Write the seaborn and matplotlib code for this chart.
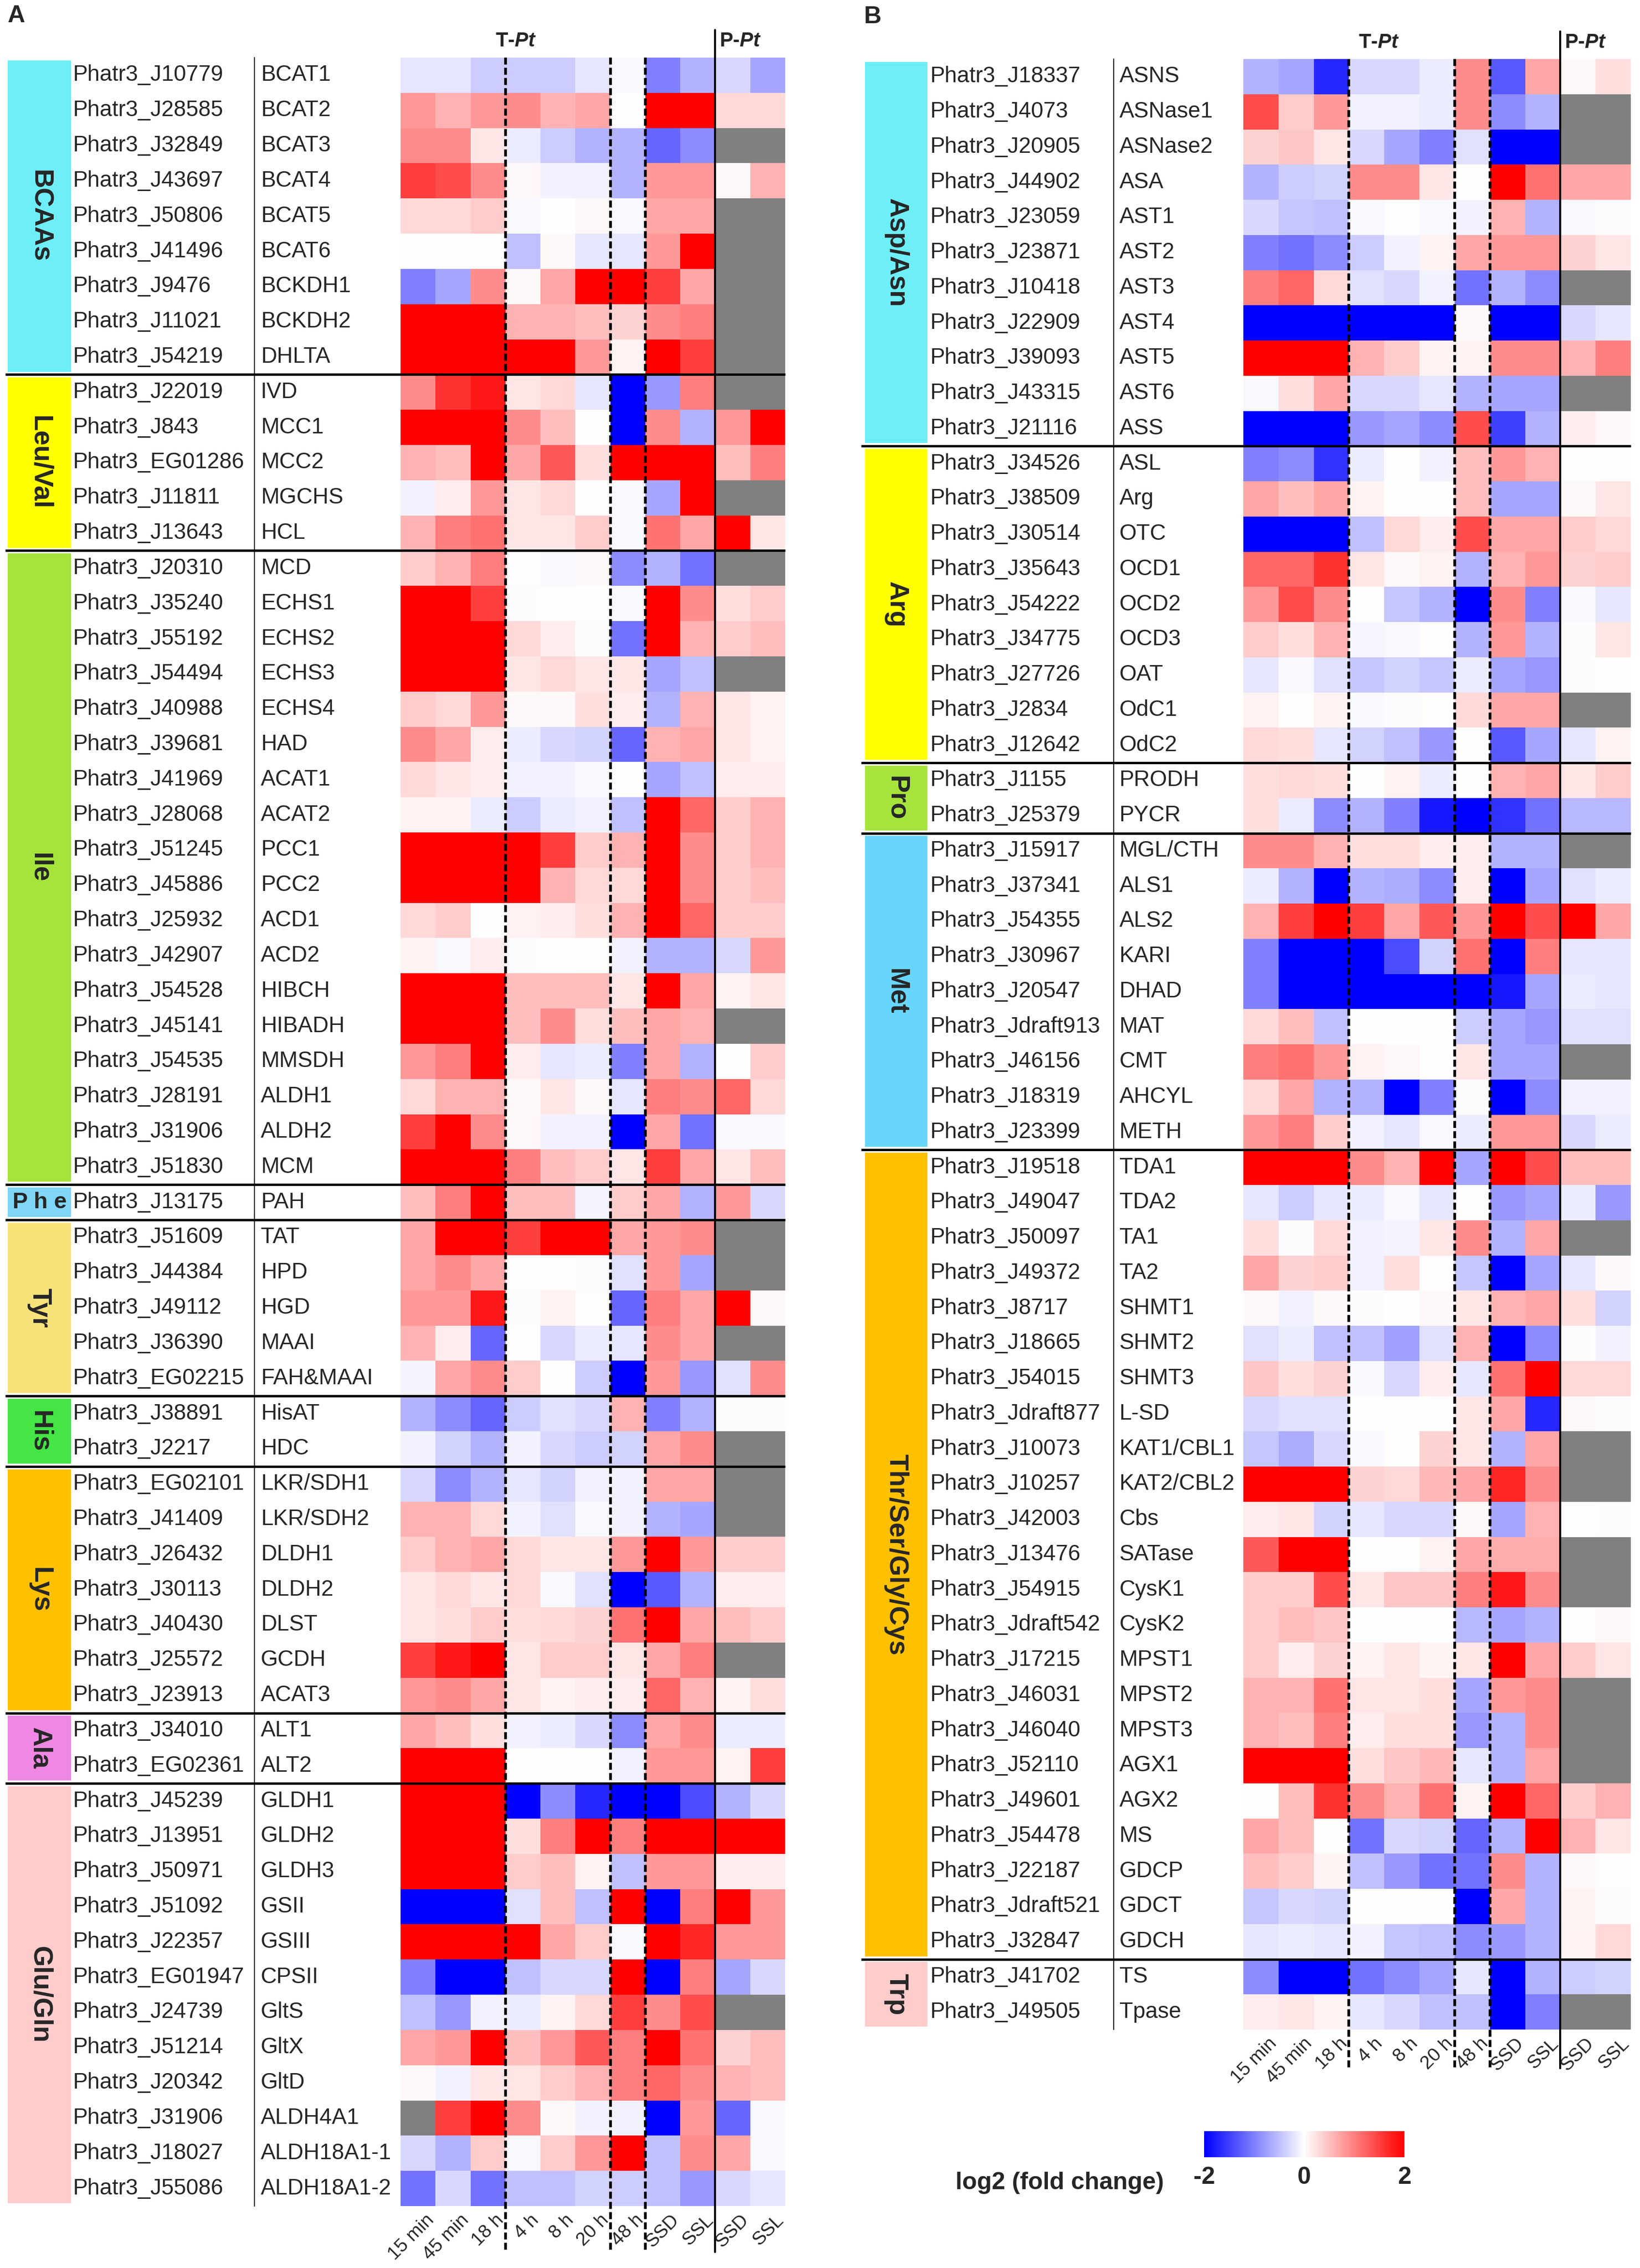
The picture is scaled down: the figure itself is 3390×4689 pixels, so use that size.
"""
Heatmaps of log2 fold change for amino acid metabolism genes (panels A and B).
"""

import numpy as np
import pandas as pd
import seaborn as sns
import matplotlib.pyplot as plt
from matplotlib.patches import Rectangle

nan = np.nan

col_labels = ["15 min", "45 min", "18 h", "4 h", "8 h", "20 h", "48 h",
              "SSD", "SSL", "SSD", "SSL"]

# ---------------- panel A ----------------
bcaa_ids = ["Phatr3_J10779", "Phatr3_J28585", "Phatr3_J32849", "Phatr3_J43697",
            "Phatr3_J50806", "Phatr3_J41496", "Phatr3_J9476", "Phatr3_J11021",
            "Phatr3_J54219"]
bcaa_names = ["BCAT1", "BCAT2", "BCAT3", "BCAT4", "BCAT5", "BCAT6", "BCKDH1",
              "BCKDH2", "DHLTA"]
bcaa_vals = [
    [-0.2, -0.2, -0.4, -0.4, -0.4, -0.2, -0.05, -1.0, -0.6, -0.3, -0.7],
    [0.8, 0.6, 0.8, 0.9, 0.6, 0.7, 0.0, 2, 2, 0.3, 0.3],
    [0.9, 0.9, 0.2, -0.15, -0.4, -0.6, -0.6, -1.2, -0.9, nan, nan],
    [1.5, 1.4, 0.9, 0.05, -0.1, -0.1, -0.6, 0.8, 0.8, 0.05, 0.6],
    [0.3, 0.3, 0.4, -0.05, 0.0, 0.05, -0.05, 0.7, 0.7, nan, nan],
    [0.0, 0.0, 0.0, -0.5, 0.05, -0.2, -0.2, 0.8, 2, nan, nan],
    [-1.0, -0.7, 0.9, 0.05, 0.7, 2, 2, 1.5, 0.7, nan, nan],
    [2, 2, 2, 0.6, 0.6, 0.5, 0.35, 0.9, 1.0, nan, nan],
    [2, 2, 2, 2, 2, 0.8, 0.1, 2, 1.5, nan, nan],
]

leuval_ids = ["Phatr3_J22019", "Phatr3_J843", "Phatr3_EG01286", "Phatr3_J11811",
              "Phatr3_J13643"]
leuval_names = ["IVD", "MCC1", "MCC2", "MGCHS", "HCL"]
leuval_vals = [
    [0.9, 1.6, 1.8, 0.2, 0.3, -0.2, -2, -0.8, 1.0, nan, nan],
    [2, 2, 2, 0.9, 0.5, 0.0, -2, 0.9, -0.6, 0.8, 2],
    [0.6, 0.5, 2, 0.7, 1.3, 0.25, 2, 2, 2, 0.5, 1.0],
    [-0.1, 0.15, 0.8, 0.2, 0.3, 0.0, -0.05, -0.7, 2, nan, nan],
    [0.6, 1.0, 1.1, 0.2, 0.2, 0.4, -0.05, 1.1, 0.7, 2, 0.2],
]

ile_ids = ["Phatr3_J20310", "Phatr3_J35240", "Phatr3_J55192", "Phatr3_J54494",
           "Phatr3_J40988", "Phatr3_J39681", "Phatr3_J41969", "Phatr3_J28068",
           "Phatr3_J51245", "Phatr3_J45886", "Phatr3_J25932", "Phatr3_J42907",
           "Phatr3_J54528", "Phatr3_J45141", "Phatr3_J54535", "Phatr3_J28191",
           "Phatr3_J31906", "Phatr3_J51830"]
ile_names = ["MCD", "ECHS1", "ECHS2", "ECHS3", "ECHS4", "HAD", "ACAT1", "ACAT2",
             "PCC1", "PCC2", "ACD1", "ACD2", "HIBCH", "HIBADH", "MMSDH", "ALDH1",
             "ALDH2", "MCM"]
ile_vals = [
    [0.4, 0.6, 1.0, 0.0, -0.05, 0.05, -0.9, -0.6, -1.1, nan, nan],
    [2, 2, 1.5, -0.02, 0.02, 0.0, -0.05, 2, 0.9, 0.25, 0.4],
    [2, 2, 2, 0.3, 0.15, -0.02, -1.1, 2, 0.6, 0.4, 0.5],
    [2, 2, 2, 0.2, 0.3, 0.2, 0.2, -0.7, -0.5, nan, nan],
    [0.4, 0.3, 0.8, 0.05, 0.05, 0.25, 0.15, -0.6, 0.6, 0.2, 0.1],
    [0.9, 0.7, 0.15, -0.15, -0.3, -0.35, -1.2, 0.6, 0.7, 0.2, 0.1],
    [0.3, 0.2, 0.15, -0.1, -0.1, -0.05, 0.0, -0.7, -0.5, 0.15, 0.15],
    [0.1, 0.1, -0.15, -0.4, -0.15, -0.1, -0.5, 2, 1.2, 0.4, 0.6],
    [2, 2, 2, 2, 1.5, 0.4, 0.6, 2, 0.9, 0.4, 0.6],
    [2, 2, 2, 2, 0.6, 0.3, 0.3, 2, 0.9, 0.4, 0.5],
    [0.3, 0.4, 0.0, 0.1, 0.15, 0.25, 0.6, 2, 1.2, 0.4, 0.4],
    [0.1, -0.05, 0.15, -0.02, 0.0, 0.02, -0.1, -0.6, -0.6, -0.3, 0.8],
    [2, 2, 2, 0.5, 0.5, 0.5, 0.2, 2, 0.7, 0.1, 0.2],
    [2, 2, 2, 0.5, 0.9, 0.25, 0.5, 0.7, 0.6, nan, nan],
    [0.8, 1.0, 2, 0.15, -0.2, -0.15, -1.0, 0.7, -0.6, 0.0, 0.4],
    [0.3, 0.6, 0.6, 0.05, 0.2, 0.05, -0.2, 1.0, 0.9, 1.2, 0.3],
    [1.5, 2, 0.9, 0.05, -0.1, -0.1, -2, 0.7, -1.1, -0.05, -0.05],
    [2, 2, 2, 1.0, 0.5, 0.4, 0.2, 1.5, 0.7, 0.2, 0.5],
]

phe_ids = ["Phatr3_J13175"]
phe_names = ["PAH"]
phe_vals = [[0.5, 1.0, 2, 0.5, 0.5, -0.08, 0.4, 0.7, -0.6, 0.8, -0.3]]

tyr_ids = ["Phatr3_J51609", "Phatr3_J44384", "Phatr3_J49112", "Phatr3_J36390",
           "Phatr3_EG02215"]
tyr_names = ["TAT", "HPD", "HGD", "MAAI", "FAH&MAAI"]
tyr_vals = [
    [0.7, 2, 2, 1.5, 2, 2, 0.7, 0.8, 0.9, nan, nan],
    [0.7, 0.9, 0.7, 0.0, 0.02, -0.02, -0.25, 0.8, -0.7, nan, nan],
    [0.8, 0.8, 1.8, -0.03, 0.1, 0.03, -1.2, 1.0, 0.7, 2, 0.05],
    [0.6, 0.15, -1.2, 0.0, -0.3, -0.15, -0.2, 0.9, 0.7, nan, nan],
    [-0.08, 0.7, 0.9, 0.4, 0.0, -0.4, -2, 0.8, -0.8, -0.25, 0.9],
]

his_ids = ["Phatr3_J38891", "Phatr3_J2217"]
his_names = ["HisAT", "HDC"]
his_vals = [
    [-0.6, -0.9, -1.2, -0.4, -0.25, -0.3, 0.6, -1.0, -0.6, -0.02, -0.02],
    [-0.1, -0.35, -0.6, -0.1, -0.3, -0.4, -0.35, 0.7, 0.9, nan, nan],
]

lys_ids = ["Phatr3_EG02101", "Phatr3_J41409", "Phatr3_J26432", "Phatr3_J30113",
           "Phatr3_J40430", "Phatr3_J25572", "Phatr3_J23913"]
lys_names = ["LKR/SDH1", "LKR/SDH2", "DLDH1", "DLDH2", "DLST", "GCDH", "ACAT3"]
lys_vals = [
    [-0.3, -0.9, -0.6, -0.2, -0.35, -0.1, -0.1, 0.7, 0.7, nan, nan],
    [0.6, 0.6, 0.3, -0.1, -0.25, -0.05, -0.1, -0.6, -0.7, nan, nan],
    [0.4, 0.6, 0.7, 0.3, 0.2, 0.2, 0.8, 2, 0.8, 0.4, 0.4],
    [0.2, 0.3, 0.2, 0.3, -0.05, -0.25, -2, -1.3, -0.6, 0.15, 0.15],
    [0.2, 0.25, 0.4, 0.25, 0.3, 0.35, 1.1, 2, 0.7, 0.5, 0.4],
    [1.5, 1.8, 2, 0.2, 0.4, 0.4, 0.2, 0.7, 1.0, nan, nan],
    [0.8, 0.9, 0.7, 0.2, 0.1, 0.15, 0.15, 1.2, 0.6, 0.1, 0.25],
]

ala_ids = ["Phatr3_J34010", "Phatr3_EG02361"]
ala_names = ["ALT1", "ALT2"]
ala_vals = [
    [0.7, 0.5, 0.25, -0.1, -0.15, -0.3, -0.9, 0.7, 0.9, -0.15, -0.15],
    [2, 2, 2, 0.0, 0.0, 0.0, -0.1, 0.8, 0.8, 0.1, 1.5],
]

glu_ids = ["Phatr3_J45239", "Phatr3_J13951", "Phatr3_J50971", "Phatr3_J51092",
           "Phatr3_J22357", "Phatr3_EG01947", "Phatr3_J24739", "Phatr3_J51214",
           "Phatr3_J20342", "Phatr3_J31906", "Phatr3_J18027", "Phatr3_J55086"]
glu_names = ["GLDH1", "GLDH2", "GLDH3", "GSII", "GSIII", "CPSII", "GltS", "GltX",
             "GltD", "ALDH4A1", "ALDH18A1-1", "ALDH18A1-2"]
glu_vals = [
    [2, 2, 2, -2, -0.9, -1.7, -2, -2, -1.4, -0.6, -0.3],
    [2, 2, 2, 0.25, 1.0, 2, 1.0, 2, 2, 2, 2],
    [2, 2, 2, 0.4, 0.5, 0.1, -0.5, 0.8, 0.8, 0.15, 0.15],
    [-2, -2, -2, -0.25, 0.5, -0.5, 2, -2, 1.0, 2, 0.8],
    [2, 2, 2, 2, 0.7, 0.4, -0.05, 2, 1.7, 0.8, 0.8],
    [-1.0, -2, -2, -0.5, -0.3, -0.3, 2, -2, 1.0, -0.7, -0.3],
    [-0.5, -0.8, -0.1, -0.15, 0.1, 0.3, 1.5, 0.9, 1.4, nan, nan],
    [0.7, 0.8, 2, 0.5, 0.8, 1.3, 1.0, 2, 1.1, 0.35, 0.5],
    [0.05, -0.1, 0.2, 0.2, 0.4, 0.6, 1.0, 1.2, 0.9, 0.6, 0.5],
    [nan, 1.5, 2, 0.9, 0.05, -0.1, -0.1, -2, 0.8, -1.2, -0.05],
    [-0.3, -0.6, 0.4, -0.05, 0.4, 0.8, 2, -0.5, 0.9, 0.7, -0.05],
    [-1.1, -0.3, -1.1, -0.5, -0.5, -0.35, -0.4, -0.5, -0.8, -0.3, -0.2],
]

# ---------------- panel B ----------------
asp_ids = ["Phatr3_J18337", "Phatr3_J4073", "Phatr3_J20905", "Phatr3_J44902",
           "Phatr3_J23059", "Phatr3_J23871", "Phatr3_J10418", "Phatr3_J22909",
           "Phatr3_J39093", "Phatr3_J43315", "Phatr3_J21116"]
asp_names = ["ASNS", "ASNase1", "ASNase2", "ASA", "AST1", "AST2", "AST3", "AST4",
             "AST5", "AST6", "ASS"]
asp_vals = [
    [-0.6, -0.7, -1.7, -0.3, -0.3, -0.15, 0.9, -1.3, 0.7, 0.05, 0.25],
    [1.4, 0.4, 0.8, -0.1, -0.1, -0.15, 0.9, -0.9, -0.6, nan, nan],
    [0.35, 0.45, 0.2, -0.3, -0.7, -1.0, -0.25, -2, -2, nan, nan],
    [-0.6, -0.4, -0.35, 0.9, 0.9, 0.2, 0.0, 2, 1.1, 0.7, 0.7],
    [-0.3, -0.45, -0.5, -0.05, 0.0, -0.05, -0.1, 0.6, -0.6, -0.05, -0.02],
    [-1.0, -1.1, -0.9, -0.4, -0.1, 0.1, 0.7, 0.8, 0.8, 0.35, 0.2],
    [1.0, 1.2, 0.3, -0.25, -0.3, -0.1, -1.1, -0.6, -0.9, nan, nan],
    [-2, -2, -2, -2, -2, -2, 0.05, -2, -2, -0.3, -0.2],
    [2, 2, 2, 0.6, 0.4, 0.1, 0.1, 0.9, 0.9, 0.6, 1.0],
    [-0.05, 0.25, 0.7, -0.3, -0.3, -0.2, -0.6, -0.7, -0.7, nan, nan],
    [-2, -2, -2, -0.8, -0.7, -0.9, 1.4, -1.5, -0.6, 0.15, 0.05],
]

arg_ids = ["Phatr3_J34526", "Phatr3_J38509", "Phatr3_J30514", "Phatr3_J35643",
           "Phatr3_J54222", "Phatr3_J34775", "Phatr3_J27726", "Phatr3_J2834",
           "Phatr3_J12642"]
arg_names = ["ASL", "Arg", "OTC", "OCD1", "OCD2", "OCD3", "OAT", "OdC1", "OdC2"]
arg_vals = [
    [-1.0, -0.9, -1.6, -0.15, 0.0, -0.1, 0.5, 0.8, 0.6, 0.0, 0.0],
    [0.7, 0.5, 0.7, 0.1, 0.0, 0.0, 0.5, -0.7, -0.7, 0.05, 0.2],
    [-2, -2, -2, -0.5, 0.3, 0.15, 1.4, 0.7, 0.7, 0.4, 0.3],
    [1.2, 1.2, 1.6, 0.2, 0.05, 0.1, -0.6, 0.6, 0.8, 0.35, 0.4],
    [0.8, 1.4, 0.9, 0.0, -0.45, -0.6, -2, 0.9, -1.0, -0.05, -0.2],
    [0.4, 0.25, 0.6, -0.07, -0.05, 0.03, -0.6, 0.8, -0.6, -0.03, 0.2],
    [-0.2, -0.05, -0.25, -0.45, -0.35, -0.45, -0.15, -0.7, -0.8, -0.03, 0.0],
    [0.1, 0.0, 0.1, -0.05, -0.02, 0.02, 0.3, 0.7, 0.7, nan, nan],
    [0.3, 0.25, -0.2, -0.35, -0.5, -0.8, 0.03, -1.3, -0.7, -0.2, 0.1],
]

pro_ids = ["Phatr3_J1155", "Phatr3_J25379"]
pro_names = ["PRODH", "PYCR"]
pro_vals = [
    [0.25, 0.3, 0.25, 0.0, 0.1, -0.15, 0.0, 0.6, 0.7, 0.2, 0.4],
    [0.25, -0.15, -0.9, -0.6, -1.0, -1.8, -2, -1.6, -1.1, -0.55, -0.55],
]

met_ids = ["Phatr3_J15917", "Phatr3_J37341", "Phatr3_J54355", "Phatr3_J30967",
           "Phatr3_J20547", "Phatr3_Jdraft913", "Phatr3_J46156", "Phatr3_J18319",
           "Phatr3_J23399"]
met_names = ["MGL/CTH", "ALS1", "ALS2", "KARI", "DHAD", "MAT", "CMT", "AHCYL", "METH"]
met_vals = [
    [0.9, 0.9, 0.6, 0.25, 0.25, 0.15, 0.15, -0.6, -0.6, nan, nan],
    [-0.15, -0.6, -2, -0.6, -0.65, -0.9, 0.15, -2, -0.7, -0.25, -0.15],
    [0.6, 1.5, 2, 1.5, 0.7, 1.3, 0.8, 2, 1.4, 2, 0.7],
    [-1.0, -2, -2, -2, -1.4, -0.35, 1.1, -2, 1.0, -0.2, -0.2],
    [-1.0, -2, -2, -2, -2, -2, -2, -1.8, -0.7, -0.15, -0.2],
    [0.3, 0.5, -0.5, 0.0, 0.0, 0.0, -0.4, -0.7, -0.8, -0.25, -0.25],
    [1.0, 1.1, 0.8, 0.1, 0.05, 0.0, 0.2, -0.7, -0.7, nan, nan],
    [0.3, 0.7, -0.6, -0.6, -2, -1.0, -0.02, -2, -0.9, -0.12, -0.12],
    [0.8, 1.0, 0.4, -0.1, -0.2, -0.05, -0.15, 0.8, 0.8, -0.3, -0.15],
]

thr_ids = ["Phatr3_J19518", "Phatr3_J49047", "Phatr3_J50097", "Phatr3_J49372",
           "Phatr3_J8717", "Phatr3_J18665", "Phatr3_J54015", "Phatr3_Jdraft877",
           "Phatr3_J10073", "Phatr3_J10257", "Phatr3_J42003", "Phatr3_J13476",
           "Phatr3_J54915", "Phatr3_Jdraft542", "Phatr3_J17215", "Phatr3_J46031",
           "Phatr3_J46040", "Phatr3_J52110", "Phatr3_J49601", "Phatr3_J54478",
           "Phatr3_J22187", "Phatr3_Jdraft521", "Phatr3_J32847"]
thr_names = ["TDA1", "TDA2", "TA1", "TA2", "SHMT1", "SHMT2", "SHMT3", "L-SD",
             "KAT1/CBL1", "KAT2/CBL2", "Cbs", "SATase", "CysK1", "CysK2", "MPST1",
             "MPST2", "MPST3", "AGX1", "AGX2", "MS", "GDCP", "GDCT", "GDCH"]
thr_vals = [
    [2, 2, 2, 0.9, 0.6, 2, -0.7, 2, 1.4, 0.5, 0.5],
    [-0.2, -0.4, -0.2, -0.15, -0.05, -0.2, 0.03, -0.8, -0.7, -0.15, -0.8],
    [0.25, -0.02, 0.3, -0.1, -0.08, 0.2, 0.9, -0.6, 0.7, nan, nan],
    [0.7, 0.35, 0.4, -0.1, 0.25, 0.02, -0.45, -2, -0.7, -0.2, 0.05],
    [0.05, -0.1, 0.05, -0.02, 0.0, 0.05, 0.2, 0.6, 0.7, 0.25, -0.35],
    [-0.25, -0.15, -0.5, -0.5, -0.75, -0.25, 0.6, -2, -0.9, -0.02, -0.1],
    [0.45, 0.25, 0.35, -0.05, -0.3, 0.15, -0.2, 1.1, 2, 0.3, 0.3],
    [-0.3, -0.25, -0.25, 0.0, 0.0, 0.0, 0.2, 0.7, -1.7, 0.05, -0.03],
    [-0.45, -0.65, -0.3, -0.05, 0.02, 0.35, 0.2, -0.6, 0.7, nan, nan],
    [2, 2, 2, 0.35, 0.3, 0.55, 0.7, 1.7, 0.9, nan, nan],
    [0.15, 0.2, -0.35, -0.2, -0.3, -0.3, 0.05, -0.7, 0.6, 0.03, -0.03],
    [1.3, 2, 2, 0.0, 0.0, 0.1, 0.7, 0.65, 0.65, nan, nan],
    [0.4, 0.4, 1.4, 0.2, 0.45, 0.45, 1.0, 1.8, 0.9, nan, nan],
    [0.4, 0.5, 0.45, 0.0, 0.0, 0.0, -0.55, -0.7, -0.6, 0.0, 0.05],
    [0.4, 0.15, 0.35, 0.1, 0.2, 0.08, 0.2, 2, 0.7, 0.4, 0.2],
    [0.6, 0.6, 1.1, 0.2, 0.2, 0.25, -0.7, 0.8, 0.9, nan, nan],
    [0.6, 0.5, 1.0, 0.15, 0.25, 0.25, -0.8, -0.6, 0.9, nan, nan],
    [2, 2, 2, 0.25, 0.45, 0.55, -0.2, -0.6, 0.7, nan, nan],
    [0.0, 0.5, 1.6, 0.9, 0.6, 1.1, 0.1, 2, 1.2, 0.4, 0.6],
    [0.7, 0.5, 0.03, -1.1, -0.3, -0.35, -1.2, -0.6, 2, 0.6, 0.2],
    [0.5, 0.4, 0.08, -0.5, -0.8, -1.1, -1.1, 0.9, -0.6, 0.05, 0.03],
    [-0.45, -0.3, -0.35, 0.0, 0.0, 0.0, -2, 0.7, -0.6, 0.08, -0.03],
    [-0.2, -0.15, -0.2, -0.1, -0.45, -0.5, -0.9, -0.8, -0.6, 0.1, 0.3],
]

trp_ids = ["Phatr3_J41702", "Phatr3_J49505"]
trp_names = ["TS", "Tpase"]
trp_vals = [
    [-0.9, -2, -2, -1.1, -0.9, -0.7, -0.2, -2, -0.6, -0.4, -0.35],
    [0.15, 0.2, 0.1, -0.2, -0.3, -0.5, -0.5, -2, -1.0, nan, nan],
]

groups_a = [("BCAAs", "#6EEEF7", bcaa_ids, bcaa_names, bcaa_vals),
            ("Leu/Val", "#FFFF00", leuval_ids, leuval_names, leuval_vals),
            ("Ile", "#A6E43C", ile_ids, ile_names, ile_vals),
            ("Phe", "#7FD6F7", phe_ids, phe_names, phe_vals),
            ("Tyr", "#F8E27A", tyr_ids, tyr_names, tyr_vals),
            ("His", "#44E544", his_ids, his_names, his_vals),
            ("Lys", "#FFC000", lys_ids, lys_names, lys_vals),
            ("Ala", "#EE88E2", ala_ids, ala_names, ala_vals),
            ("Glu/Gln", "#FFCCCC", glu_ids, glu_names, glu_vals)]

groups_b = [("Asp/Asn", "#6EEEF7", asp_ids, asp_names, asp_vals),
            ("Arg", "#FFFF00", arg_ids, arg_names, arg_vals),
            ("Pro", "#A6E43C", pro_ids, pro_names, pro_vals),
            ("Met", "#68D6FC", met_ids, met_names, met_vals),
            ("Thr/Ser/Gly/Cys", "#FFC000", thr_ids, thr_names, thr_vals),
            ("Trp", "#FFCCCC", trp_ids, trp_names, trp_vals)]

W, H = 3391, 4689
sns.set_style("white")
plt.rcParams["font.family"] = ["Liberation Sans", "DejaVu Sans"]
plt.rcParams["mathtext.fontset"] = "custom"
plt.rcParams["mathtext.rm"] = "Liberation Sans:bold"
plt.rcParams["mathtext.it"] = "Liberation Sans:italic:bold"

fig = plt.figure(figsize=(W / 100, H / 100), dpi=100)


def px_axes(x0, y0, x1, y1):
    return fig.add_axes([x0 / W, 1 - y1 / H, (x1 - x0) / W, (y1 - y0) / H])


def draw_panel(ax, groups, geo):
    ids, names, vals = [], [], []
    for g in groups:
        ids += g[2]
        names += g[3]
        vals += g[4]
    df = pd.DataFrame(vals, index=ids, columns=range(len(col_labels)))
    nrows = len(df)

    sns.heatmap(df, ax=ax, cmap="bwr", vmin=-2, vmax=2, cbar=False,
                xticklabels=False, yticklabels=False, linewidths=0)
    ax.set_facecolor("#808080")

    for i, (gid, nm) in enumerate(zip(ids, names)):
        ax.text(geo["id_x"], i + 0.5, gid, ha="left", va="center", fontsize=33)
        ax.text(geo["name_x"], i + 0.5, nm, ha="left", va="center", fontsize=33)

    # group colour bars and separators
    start = 0
    for k, (gname, color, gids, _, _) in enumerate(groups):
        n = len(gids)
        ax.add_patch(Rectangle((geo["bar_x0"], start + 0.08), geo["bar_x1"] - geo["bar_x0"],
                               n - 0.16, color=color, lw=0, clip_on=False))
        xc = (geo["bar_x0"] + geo["bar_x1"]) / 2
        if n == 1:
            ax.text(xc, start + 0.5, "P h e", ha="center", va="center",
                    fontsize=34, fontweight="bold")
        else:
            ax.text(xc, start + n / 2, gname, ha="center", va="center",
                    rotation=270, fontsize=40, fontweight="bold")
        if k > 0:
            ax.plot([geo["line_x0"], 11], [start, start], color="black", lw=3.5,
                    clip_on=False, solid_capstyle="butt")
        start += n

    ax.plot([geo["sep_x"], geo["sep_x"]], [0, nrows], color="black", lw=1.5, clip_on=False)
    bottom = nrows + geo["ext"]
    for x in (3, 6, 7):
        ax.plot([x, x], [0, bottom], color="black", lw=4, ls=(0, (2.6, 1.2)),
                clip_on=False)
    ax.plot([9, 9], [-0.78, bottom], color="black", lw=3, clip_on=False)

    for j, lab in enumerate(col_labels):
        ax.text(j + 0.7, nrows + 0.15, lab, rotation=45, ha="right", va="top",
                rotation_mode="anchor", fontsize=28)

    ax.text(geo["t_x"], -0.47, "T-$\\mathit{Pt}$", ha="center", va="center",
            fontsize=30, fontweight="bold")
    ax.text(9.12, -0.47, "P-$\\mathit{Pt}$", ha="left", va="center",
            fontsize=30, fontweight="bold")


ax_a = px_axes(828, 119, 1623, 4561)
draw_panel(ax_a, groups_a, dict(id_x=-9.38, name_x=-4.0, sep_x=-4.18, bar_x0=-11.23,
                                bar_x1=-9.42, line_x0=-11.31, ext=1.3, t_x=3.3))

ax_b = px_axes(2570, 122, 3371, 4196)
draw_panel(ax_b, groups_b, dict(id_x=-8.89, name_x=-3.52, sep_x=-3.68, bar_x0=-10.74,
                                bar_x1=-8.97, line_x0=-10.85, ext=1.1, t_x=3.85))

fig.text(16 / W, 1 - 10 / H, "A", ha="left", va="top", fontsize=36, fontweight="bold")
fig.text(1786 / W, 1 - 12 / H, "B", ha="left", va="top", fontsize=36, fontweight="bold")

# colour bar
cax = px_axes(2489, 4406, 2903, 4460)
cb = fig.colorbar(ax_b.collections[0], cax=cax, orientation="horizontal")
cb.outline.set_visible(False)
cb.set_ticks([-2, 0, 2])
cb.set_ticklabels(["-2", "0", "2"])
cax.tick_params(length=0, labelsize=36, pad=14)
for t in cax.get_xticklabels():
    t.set_fontweight("bold")
fig.text(2190 / W, 1 - 4513 / H, "log2 (fold change)", ha="center", va="center",
         fontsize=36, fontweight="bold")

plt.savefig("out.png", dpi=100)
plt.close()
